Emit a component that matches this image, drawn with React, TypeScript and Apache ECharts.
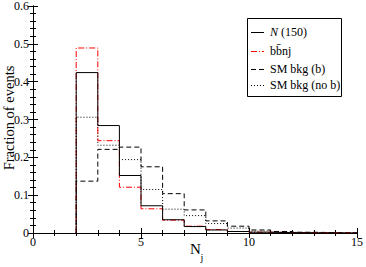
import React, { useEffect, useRef } from "react";
import * as echarts from "echarts";

const binStarts = [2, 3, 4, 5, 6, 7, 8, 9, 10, 11, 12, 13, 14];
const binWidth = 1;
const nHeavy = [0.424, 0.284, 0.152, 0.072, 0.035, 0.017, 0.008, 0.004, 0.002, 0.001, 0.0005, 0.0003, 0.0002];
const bbnj = [0.489, 0.244, 0.121, 0.064, 0.034, 0.018, 0.009, 0.004, 0.002, 0.001, 0.001, 0.0005, 0.0003];
const smB = [0.137, 0.221, 0.227, 0.175, 0.104, 0.061, 0.032, 0.018, 0.008, 0.004, 0.002, 0.001, 0.0005];
const smNoB = [0.306, 0.232, 0.194, 0.115, 0.063, 0.046, 0.025, 0.013, 0.005, 0.002, 0.001, 0.0005, 0.0003];

const legendNames = ["{i|N} (150)", "bb\u0304nj", "SM bkg (b)", "SM bkg (no b)"];

const FONT = "Liberation Serif";

function stepData(vals: number[]): number[][] {
  const pts: number[][] = [[binStarts[0], 0]];
  vals.forEach((v, i) => pts.push([binStarts[i] + binWidth, v]));
  return pts;
}

const styles: any[] = [
  { color: "#000", type: "solid", width: 1 },
  { color: "#ff0000", type: [6, 2, 1, 2], width: 1 },
  { color: "#000", type: [5, 3], width: 1 },
  { color: "#000", type: [1, 2], width: 1 },
];

export default function App() {
  const ref = useRef<HTMLDivElement>(null);
  useEffect(() => {
    if (!ref.current) return;
    const chart = echarts.init(ref.current, null, { renderer: "svg" });
    const axisCommon = {
      axisLine: { show: true, lineStyle: { color: "#000", width: 1 } },
      axisTick: { show: true, inside: true, length: 5, lineStyle: { color: "#000" } },
      minorTick: { show: true, splitNumber: 5, length: 3, lineStyle: { color: "#000" } },
      splitLine: { show: false },
      minorSplitLine: { show: false },
    };
    const seriesVals = [smNoB, smB, bbnj, nHeavy];
    const seriesStyle = [styles[3], styles[2], styles[1], styles[0]];
    const seriesNames = ["SM bkg (no b)", "SM bkg (b)", "bbnj", "N (150)"];
    const legendY = [32, 51, 69, 85];
    const legendGraphics: any[] = [
      {
        type: "rect",
        shape: { x: 247.5, y: 18.5, width: 94, height: 78 },
        style: { fill: "#fff", stroke: "#000", lineWidth: 1 },
        z: 10,
      },
    ];
    legendNames.forEach((name, i) => {
      legendGraphics.push({
        type: "line",
        shape: { x1: 251, y1: legendY[i] + 0.5, x2: 264, y2: legendY[i] + 0.5 },
        style: { stroke: styles[i].color, lineWidth: 1, lineDash: styles[i].type === "solid" ? null : styles[i].type },
        z: 11,
      });
      legendGraphics.push({
        type: "text",
        x: 270,
        y: legendY[i],
        style: {
          text: name,
          fontFamily: FONT,
          fontSize: 12,
          fill: "#000",
          textVerticalAlign: "middle",
          rich: { i: { fontStyle: "italic", fontFamily: FONT, fontSize: 12 } },
        },
        z: 11,
      });
    });
    chart.setOption({
      animation: false,
      grid: { left: 33, right: 7, top: 5, bottom: 34, containLabel: false },
      xAxis: [
        {
          type: "value",
          min: 0,
          max: 15,
          interval: 5,
          ...axisCommon,
          axisLabel: { color: "#000", fontFamily: FONT, fontSize: 12, margin: 3 },
        },
        {
          type: "value",
          position: "top",
          min: 0,
          max: 15,
          interval: 5,
          ...axisCommon,
          axisLabel: { show: false },
        },
      ],
      yAxis: [
        {
          type: "value",
          min: 0,
          max: 0.6,
          interval: 0.1,
          ...axisCommon,
          axisLabel: { color: "#000", fontFamily: FONT, fontSize: 12, margin: 4 },
        },
        {
          type: "value",
          position: "right",
          min: 0,
          max: 0.6,
          interval: 0.1,
          ...axisCommon,
          axisLabel: { show: false },
        },
      ],
      series: seriesVals.map((vals, i) => ({
        type: "line",
        name: seriesNames[i],
        step: "start",
        symbol: "none",
        data: stepData(vals),
        lineStyle: { color: seriesStyle[i].color, type: seriesStyle[i].type, width: seriesStyle[i].width },
        xAxisIndex: 0,
        yAxisIndex: 0,
      })),
      graphic: [
        {
          type: "text",
          x: 8.5,
          y: 118,
          rotation: Math.PI / 2,
          style: {
            text: "Fraction of events",
            fontFamily: FONT,
            fontSize: 14.5,
            fill: "#000",
            textAlign: "center",
            textVerticalAlign: "middle",
          },
        },
        {
          type: "text",
          x: 190,
          y: 249,
          style: { text: "N", fontFamily: FONT, fontSize: 15, fill: "#000", textVerticalAlign: "middle" },
        },
        {
          type: "text",
          x: 200.5,
          y: 257,
          style: { text: "j", fontFamily: FONT, fontSize: 10, fill: "#000", textVerticalAlign: "middle" },
        },
        ...legendGraphics,
      ],
    });
    return () => chart.dispose();
  }, []);
  return (
    <div
      ref={ref}
      style={{ position: "fixed", left: 0, top: 0, width: 366, height: 267, background: "#fff" }}
    />
  );
}
